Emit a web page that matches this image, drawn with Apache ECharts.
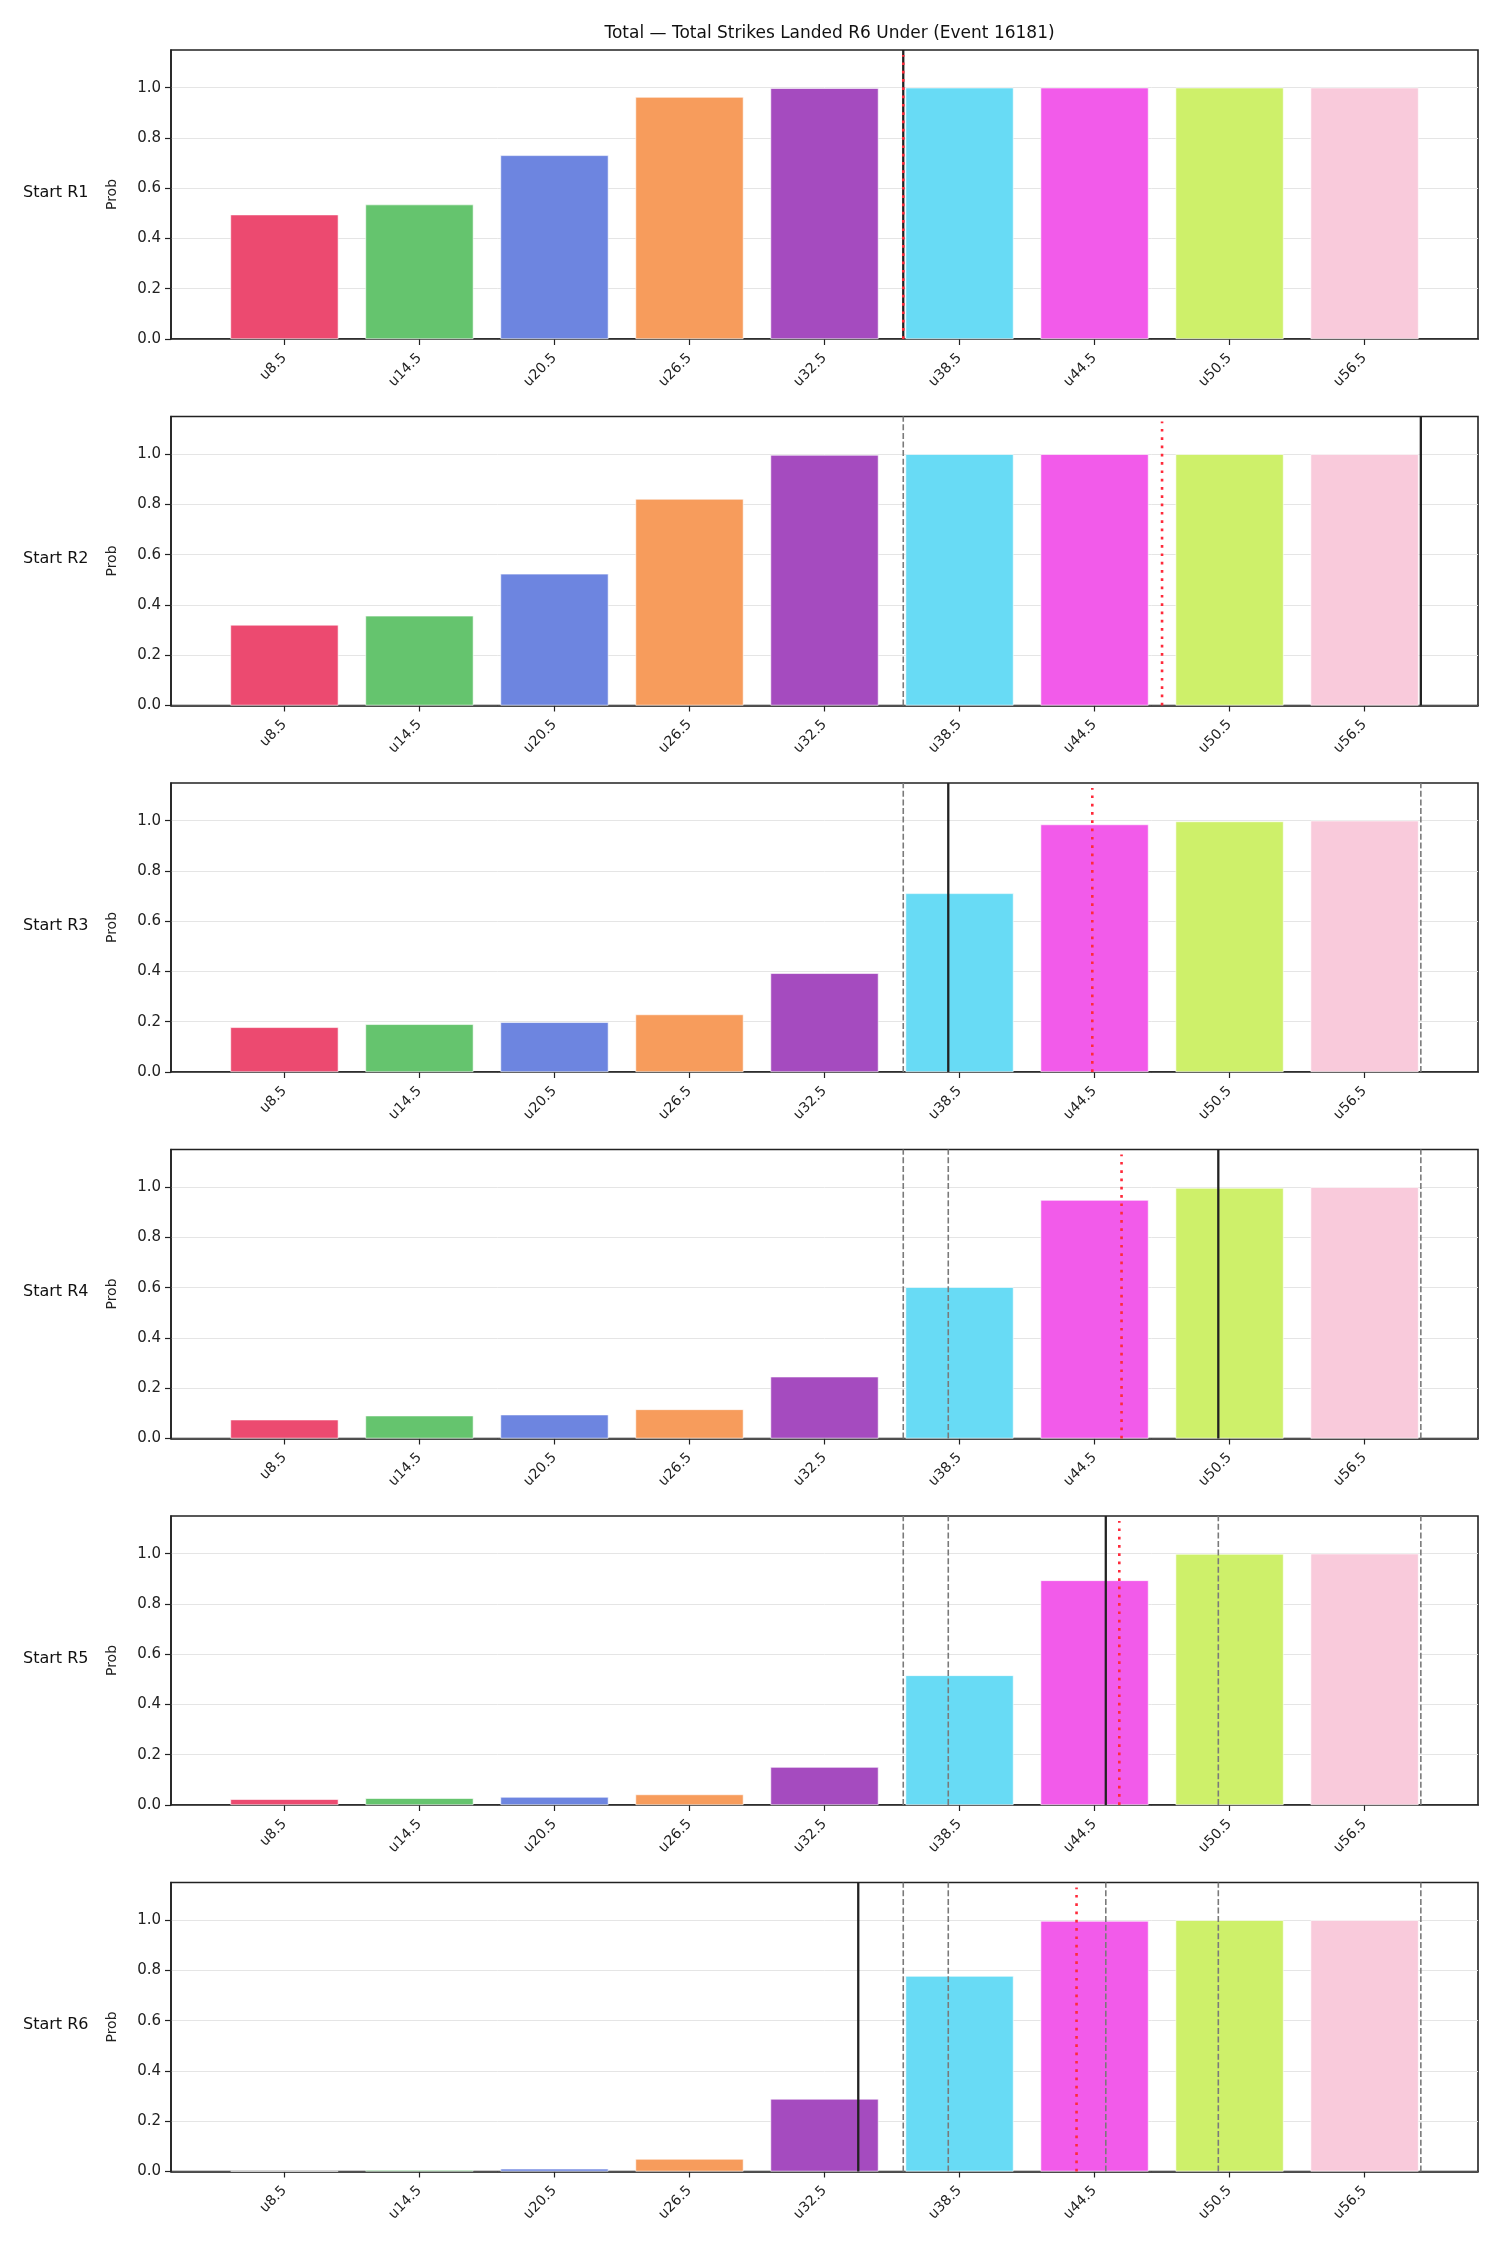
<!DOCTYPE html>
<html>
<head>
<meta charset="utf-8">
<script src="https://cdn.jsdelivr.net/npm/echarts@6/dist/echarts.min.js"></script>
<style>
	html, body { margin: 0; padding: 0; background: #fff; }
	#chart { width: 1500px; height: 2250px; }
</style>
</head>
<body>
<div id="chart"></div>
<script>
// thresholds (x position of each bar, in strikes) and their labels
const thresholds = [8.5, 14.5, 20.5, 26.5, 32.5, 38.5, 44.5, 50.5, 56.5];
const categories = ['u8.5', 'u14.5', 'u20.5', 'u26.5', 'u32.5', 'u38.5', 'u44.5', 'u50.5', 'u56.5'];
const barColors = ['#EC4A70', '#65C46E', '#6D85E0', '#F79C5C', '#A54BBF', '#68DBF5', '#F25BEA', '#CEF06A', '#F9CADB'];

const rowLabels = ['Start R1', 'Start R2', 'Start R3', 'Start R4', 'Start R5', 'Start R6'];

// P(under) per threshold, one list per starting round
const probR1 = [0.495, 0.535, 0.731, 0.963, 0.998, 1.0, 1.0, 1.0, 1.0];
const probR2 = [0.321, 0.357, 0.524, 0.822, 0.997, 1.0, 1.0, 1.0, 1.0];
const probR3 = [0.178, 0.190, 0.198, 0.229, 0.393, 0.711, 0.985, 0.997, 1.0];
const probR4 = [0.075, 0.091, 0.095, 0.116, 0.246, 0.602, 0.949, 0.997, 1.0];
const probR5 = [0.023, 0.027, 0.032, 0.042, 0.151, 0.516, 0.894, 0.999, 1.0];
const probR6 = [0.002, 0.006, 0.011, 0.050, 0.289, 0.778, 0.997, 1.0, 1.0];
const probRows = [probR1, probR2, probR3, probR4, probR5, probR6];

// solid black line = total for that round, earlier rounds are shown dashed
const roundTotals = [36, 59, 38, 50, 45, 34];
// red dotted line = projected total
const projected = [36, 47.5, 44.4, 45.7, 45.6, 43.7];

const yTicks = [0, 0.2, 0.4, 0.6, 0.8, 1.0];

const FONT = 'DejaVu Sans';
const X_MIN = 3.46, X_MAX = 61.54, Y_MAX = 1.15;
const GRID_LEFT = 171, GRID_WIDTH = 1307, GRID_TOP0 = 50, GRID_STEP = 366.5, GRID_HEIGHT = 289;
const barPx = GRID_WIDTH * 4.8 / (X_MAX - X_MIN);

const chart = echarts.init(document.getElementById('chart'));

const labelFor = v => {
	const i = thresholds.findIndex(t => Math.abs(t - v) < 1e-6);
	return i >= 0 ? categories[i] : '';
};

const vLine = (idx, x, yTop, style) => ({
	type: 'line',
	xAxisIndex: idx,
	yAxisIndex: idx,
	data: [[x, 0], [x, yTop]],
	symbol: 'none',
	silent: true,
	animation: false,
	lineStyle: style,
	z: 5
});

const grids = [], xAxes = [], yAxes = [], series = [], graphics = [];

probRows.forEach((row, i) => {
	const top = GRID_TOP0 + i * GRID_STEP;
	grids.push({
		left: GRID_LEFT, width: GRID_WIDTH, top: top, height: GRID_HEIGHT,
		show: true, borderColor: '#222', borderWidth: 1.6, backgroundColor: 'transparent'
	});
	xAxes.push({
		gridIndex: i,
		type: 'value',
		min: X_MIN,
		max: X_MAX,
		axisLine: { show: true, onZero: false, lineStyle: { color: '#222', width: 1.6 } },
		axisTick: { show: true, length: 6, lineStyle: { color: '#222', width: 1.2 }, customValues: thresholds },
		axisLabel: {
			customValues: thresholds,
			rotate: 45,
			margin: 17,
			fontFamily: FONT,
			fontSize: 14,
			color: '#222',
			formatter: labelFor
		},
		splitLine: { show: false }
	});
	yAxes.push({
		gridIndex: i,
		type: 'value',
		min: 0,
		max: Y_MAX,
		interval: 0.2,
		name: 'Prob',
		nameLocation: 'middle',
		nameGap: 52,
		nameTextStyle: { fontFamily: FONT, fontSize: 14, color: '#222' },
		axisLine: { show: true, lineStyle: { color: '#222', width: 1.6 } },
		axisTick: { show: true, length: 6, lineStyle: { color: '#222', width: 1.2 }, customValues: yTicks },
		axisLabel: {
			customValues: yTicks,
			margin: 10,
			fontFamily: FONT,
			fontSize: 15,
			color: '#222',
			formatter: v => v.toFixed(1)
		},
		splitLine: { show: true, lineStyle: { color: '#e5e5e5', width: 1 } }
	});

	series.push({
		type: 'bar',
		xAxisIndex: i,
		yAxisIndex: i,
		barWidth: barPx,
		animation: false,
		silent: true,
		data: row.map((v, k) => ({
			value: [thresholds[k], v],
			itemStyle: { color: barColors[k], borderColor: '#fff', borderWidth: 0.6 }
		}))
	});

	// earlier rounds, dashed grey
	roundTotals.slice(0, i).forEach(t => {
		series.push(vLine(i, t, Y_MAX, { color: '#7a7a7a', width: 1.6, type: [6, 2.6] }));
	});
	// this round, solid black
	series.push(vLine(i, roundTotals[i], Y_MAX, { color: '#222', width: 2.3, type: 'solid' }));
	// projection, red dotted
	series.push(vLine(i, projected[i], 1.13, { color: '#ff2a3a', width: 2.6, type: [2.7, 5.6] }));

	graphics.push({
		type: 'text',
		left: 23,
		top: top + GRID_HEIGHT / 2 - 10,
		style: { text: rowLabels[i], fontFamily: FONT, fontSize: 16, fill: '#111' }
	});
});

chart.setOption({
	backgroundColor: '#fff',
	animation: false,
	title: {
		text: 'Total — Total Strikes Landed R6 Under (Event 16181)',
		left: GRID_LEFT + GRID_WIDTH / 2,
		top: 20,
		textAlign: 'center',
		textStyle: { fontFamily: FONT, fontSize: 17, fontWeight: 'normal', color: '#111' }
	},
	grid: grids,
	xAxis: xAxes,
	yAxis: yAxes,
	series: series,
	graphic: graphics
});
</script>
</body>
</html>
